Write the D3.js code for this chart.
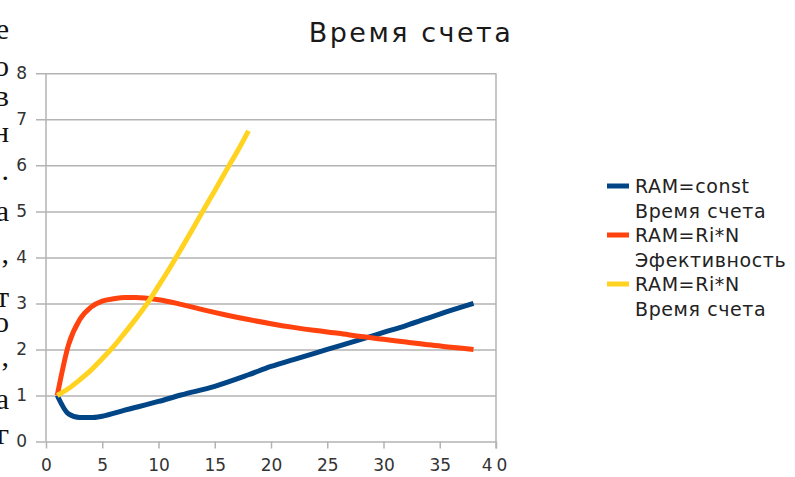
<!DOCTYPE html>
<html>
<head>
<meta charset="utf-8">
<script src="https://cdn.jsdelivr.net/npm/d3@7"></script>
<style>
  html, body { margin: 0; padding: 0; background: #fff; }
  svg { display: block; }
</style>
</head>
<body>
<svg id="chart" width="795" height="477"></svg>
<script>
// Number of nodes N for each sample
const nBlue = [1, 2, 3, 4, 5, 7, 10, 12, 15, 18, 20, 22, 25, 28, 30, 32, 35, 38];
// RAM=const, compute time
const blueValues = [1.0, 0.6, 0.52, 0.52, 0.55, 0.68, 0.87, 1.01, 1.2, 1.45, 1.63, 1.78, 2.0, 2.22, 2.37, 2.52, 2.77, 3.0];

const nRed = [1, 2, 3, 4, 5, 6, 7, 8, 9, 10, 12, 14, 16, 18, 20, 22, 24, 26, 28, 30, 32, 34, 36, 38];
// RAM=Ri*N, efficiency
const redValues = [1.0, 2.1, 2.65, 2.92, 3.05, 3.1, 3.13, 3.13, 3.11, 3.08, 2.98, 2.86, 2.75, 2.65, 2.56, 2.48, 2.41, 2.35, 2.28, 2.22, 2.16, 2.1, 2.05, 2.0];

const nYellow = [1, 2, 3, 4, 5, 6, 7, 8, 9, 10, 11, 12, 13, 14, 15, 16, 17, 18];
// RAM=Ri*N, compute time
const yellowValues = [1.0, 1.15, 1.34, 1.55, 1.8, 2.06, 2.36, 2.67, 3.0, 3.38, 3.77, 4.18, 4.6, 5.03, 5.45, 5.88, 6.3, 6.75];

const yTicks = [0, 1, 2, 3, 4, 5, 6, 7, 8];
const xTicks = [0, 5, 10, 15, 20, 25, 30, 35, 40];

const title = "Время счета";
const legendLabels = [
  ["RAM=const", "Время счета"],
  ["RAM=Ri*N", "Эфективность"],
  ["RAM=Ri*N", "Время счета"]
];
const seriesColors = ["#004586", "#ff420e", "#ffd320"];

// Line ends of the surrounding document text, cut by the left edge
const marginChars = ["е", "о", "в", "н", ".", "а", ",", "т", "о", ",", "а", "г"];
const marginRows  = [31, 68, 98, 134, 172, 213, 255, 299, 324, 358, 401, 436];

const svg = d3.select("#chart");
const font = "'DejaVu Sans', sans-serif";
const gridColor = "#b3b3b3";

const x = d3.scaleLinear().domain([0, 40]).range([46, 496]);
const y = d3.scaleLinear().domain([0, 8]).range([441.5, 73.3]);

// clipped text at the left edge
svg.append("g")
  .selectAll("text")
  .data(marginChars)
  .join("text")
  .attr("x", 9)
  .attr("y", (d, i) => marginRows[i] + 8)
  .attr("text-anchor", "end")
  .attr("font-family", "'Liberation Serif', serif")
  .attr("font-size", 30)
  .attr("fill", "#111")
  .text(d => d);

// title
svg.append("text")
  .attr("x", 411)
  .attr("y", 42)
  .attr("text-anchor", "middle")
  .attr("font-family", font)
  .attr("font-size", 27)
  .attr("letter-spacing", 2.5)
  .attr("fill", "#1a1a1a")
  .text(title);

// horizontal gridlines + y axis
const yAxis = d3.axisLeft(y).tickValues(yTicks).tickSize(10).tickPadding(9).tickFormat(d3.format("d"));
const gy = svg.append("g").attr("transform", `translate(${x(0)},0)`).call(yAxis);
gy.select(".domain").remove();
gy.selectAll(".tick line").attr("stroke", gridColor).attr("stroke-width", 1.5)
  .attr("x1", x(40) - x(0)).attr("x2", -10);
gy.selectAll(".tick text").attr("font-family", font).attr("font-size", 17).attr("fill", "#333");

// x axis
const gx = svg.append("g").attr("transform", `translate(0,${y(0)})`)
  .call(d3.axisBottom(x).tickValues(xTicks).tickSize(7).tickPadding(10).tickFormat(d3.format("d")));
gx.select(".domain").remove();
gx.selectAll(".tick line").attr("stroke", gridColor).attr("stroke-width", 1.5);
gx.selectAll(".tick text").attr("font-family", font).attr("font-size", 17).attr("fill", "#333")
  .attr("letter-spacing", d => d === 40 ? 4 : 0);

// vertical frame lines
svg.append("line").attr("x1", x(0)).attr("x2", x(0)).attr("y1", y(8)).attr("y2", y(0))
  .attr("stroke", gridColor).attr("stroke-width", 1.5);
svg.append("line").attr("x1", x(40)).attr("x2", x(40)).attr("y1", y(8)).attr("y2", y(0) + 7)
  .attr("stroke", gridColor).attr("stroke-width", 1.5);

// series lines
const series = [
  { n: nBlue, v: blueValues },
  { n: nRed, v: redValues },
  { n: nYellow, v: yellowValues }
];
const line = d3.line().curve(d3.curveMonotoneX);
series.forEach((s, i) => {
  svg.append("path")
    .attr("d", line(s.n.map((n, j) => [x(n), y(s.v[j])])))
    .attr("fill", "none")
    .attr("stroke", seriesColors[i])
    .attr("stroke-width", 5)
    .attr("stroke-linejoin", "round");
});

// legend
const legend = svg.append("g").attr("font-family", font).attr("font-size", 19)
  .attr("letter-spacing", 0.6).attr("fill", "#222");
legendLabels.forEach((lab, i) => {
  const yy = 186 + i * 49;
  legend.append("line").attr("x1", 607).attr("x2", 629).attr("y1", yy).attr("y2", yy)
    .attr("stroke", seriesColors[i]).attr("stroke-width", 5);
  legend.append("text").attr("x", 635).attr("y", yy + 7).text(lab[0]);
  legend.append("text").attr("x", 635).attr("y", yy + 32).text(lab[1]);
});
</script>
</body>
</html>
